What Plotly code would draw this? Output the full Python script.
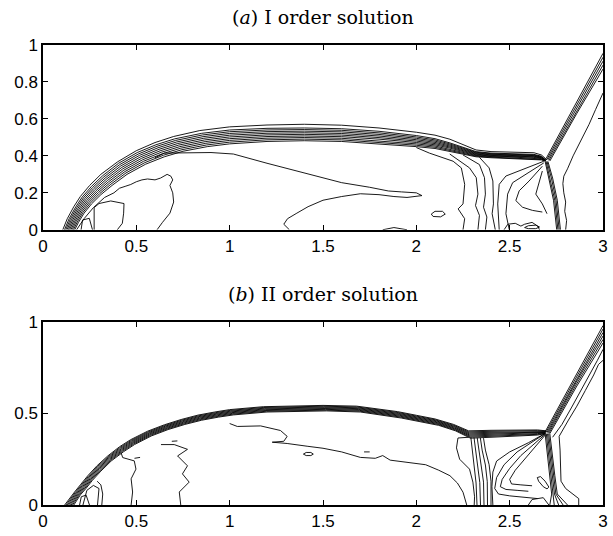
import plotly.graph_objects as go

# ---------------- panel (a): first order solution ----------------
# leading edge of the bow shock (outermost contour)
a_front_x = [0.106, 0.13, 0.165, 0.2, 0.25, 0.31, 0.4, 0.5, 0.6, 0.7, 0.84, 1.0, 1.2, 1.4, 1.6, 1.8, 2.0, 2.1, 2.18, 2.25, 2.32, 2.4, 2.55, 2.63, 2.67, 2.70]
a_front_y = [0.0, 0.06, 0.125, 0.18, 0.24, 0.30, 0.368, 0.428, 0.472, 0.505, 0.537, 0.557, 0.567, 0.571, 0.566, 0.551, 0.528, 0.512, 0.49, 0.46, 0.432, 0.423, 0.421, 0.417, 0.405, 0.378]
# packed contours inside the bow shock: first and last of the group
a_bow_top_x = [0.115, 0.14, 0.175, 0.21, 0.26, 0.32, 0.405, 0.505, 0.605, 0.705, 0.85, 1.0, 1.2, 1.4, 1.6, 1.8, 2.0, 2.1, 2.18, 2.25, 2.32, 2.4, 2.55, 2.63, 2.67, 2.695]
a_bow_top_y = [0.0, 0.06, 0.123, 0.177, 0.235, 0.293, 0.36, 0.418, 0.46, 0.492, 0.522, 0.54, 0.549, 0.551, 0.547, 0.533, 0.51, 0.493, 0.47, 0.445, 0.423, 0.415, 0.412, 0.408, 0.398, 0.376]
a_bow_in_x = [0.17, 0.19, 0.22, 0.26, 0.31, 0.37, 0.45, 0.55, 0.65, 0.75, 0.88, 1.0, 1.2, 1.4, 1.6, 1.8, 2.0, 2.1, 2.18, 2.25, 2.32, 2.4, 2.55, 2.63, 2.67, 2.69]
a_bow_in_y = [0.0, 0.04, 0.09, 0.14, 0.19, 0.24, 0.30, 0.355, 0.395, 0.425, 0.45, 0.465, 0.478, 0.482, 0.478, 0.465, 0.45, 0.44, 0.425, 0.41, 0.395, 0.39, 0.385, 0.382, 0.378, 0.372]
a_bow_levels = 9

# incident shock, triple point to the right wall
a_inc_up_x = [2.695, 2.85, 3.0]
a_inc_up_y = [0.385, 0.675, 0.955]
a_inc_lo_x = [2.715, 2.86, 3.0]
a_inc_lo_y = [0.372, 0.63, 0.87]
a_inc_levels = 5

# Mach stem, triple point to the wall
a_stem_l_x = [2.69, 2.71, 2.735, 2.752]
a_stem_l_y = [0.37, 0.28, 0.16, 0.0]
a_stem_r_x = [2.705, 2.73, 2.755, 2.772]
a_stem_r_y = [0.37, 0.28, 0.16, 0.0]
a_stem_levels = 4

# single contours
a_lines = [
    # right of the incident shock and Mach stem
    ([2.80, 2.805, 2.795, 2.80, 2.79, 2.785, 2.79, 2.81, 2.84, 2.87, 2.90, 2.925, 2.96, 3.0],
     [0.0, 0.05, 0.1, 0.15, 0.2, 0.25, 0.29, 0.33, 0.40, 0.46, 0.52, 0.57, 0.65, 0.74]),
    # ragged inner contour behind the bow shock
    ([0.18, 0.22, 0.27, 0.33, 0.38, 0.41, 0.44, 0.47, 0.5, 0.53, 0.56, 0.6, 0.63, 0.645, 0.665, 0.685, 0.695, 0.68, 0.695, 0.70, 0.68, 0.64, 0.611],
     [0.0, 0.06, 0.12, 0.175, 0.2, 0.225, 0.235, 0.245, 0.26, 0.27, 0.275, 0.27, 0.28, 0.29, 0.30, 0.29, 0.27, 0.24, 0.2, 0.15, 0.09, 0.04, 0.0]),
    # long contour below the bow shock with tongue
    ([0.60, 0.65, 0.9, 1.02, 1.2, 1.42, 1.6, 1.75, 1.85, 1.92, 2.0, 2.03, 1.95, 1.88, 1.8, 1.7, 1.6, 1.5, 1.42, 1.36, 1.31, 1.29, 1.32],
     [0.39, 0.415, 0.418, 0.41, 0.36, 0.30, 0.255, 0.23, 0.21, 0.205, 0.2, 0.185, 0.175, 0.18, 0.19, 0.195, 0.18, 0.16, 0.125, 0.09, 0.06, 0.03, 0.0]),
    # small closed region
    ([2.08, 2.1, 2.14, 2.155, 2.13, 2.09, 2.08], [0.085, 0.1, 0.1, 0.085, 0.07, 0.072, 0.085]),
    # lobes near the shock foot
    ([0.274, 0.274, 0.30, 0.363, 0.434, 0.432, 0.425, 0.398], [0.0, 0.12, 0.142, 0.156, 0.142, 0.09, 0.035, 0.0]),
    ([0.204, 0.212, 0.248, 0.265], [0.0, 0.053, 0.062, 0.0]),
    # contours descending from the slip region
    ([2.0, 2.07, 2.197, 2.241, 2.259, 2.25, 2.224, 2.259, 2.25],
     [0.445, 0.415, 0.371, 0.335, 0.246, 0.14, 0.113, 0.06, 0.0]),
    ([2.179, 2.285, 2.321, 2.33, 2.317, 2.338, 2.33], [0.41, 0.335, 0.282, 0.193, 0.131, 0.078, 0.0]),
    ([2.25, 2.338, 2.365, 2.37, 2.36, 2.378, 2.37], [0.405, 0.353, 0.282, 0.193, 0.122, 0.069, 0.0]),
    ([2.338, 2.39, 2.41, 2.413, 2.406, 2.423], [0.392, 0.335, 0.264, 0.14, 0.087, 0.0]),
    # fan below the triple point
    ([2.683, 2.569, 2.48, 2.444, 2.436, 2.444], [0.371, 0.326, 0.291, 0.246, 0.14, 0.0]),
    ([2.683, 2.586, 2.516, 2.489, 2.48, 2.498], [0.362, 0.3, 0.255, 0.193, 0.087, 0.0]),
    ([2.675, 2.604, 2.551, 2.533, 2.569, 2.622, 2.675], [0.344, 0.264, 0.211, 0.158, 0.122, 0.105, 0.096]),
    ([2.675, 2.64, 2.675, 2.70], [0.318, 0.193, 0.14, 0.087]),
    ([2.47, 2.49, 2.53, 2.56, 2.58, 2.62, 2.65, 2.66], [0.0, 0.03, 0.035, 0.02, 0.03, 0.04, 0.02, 0.0]),
    ([2.58, 2.6, 2.64, 2.66, 2.64, 2.6, 2.58], [0.012, 0.022, 0.025, 0.015, 0.006, 0.006, 0.012]),
    ([1.82, 1.88, 1.95], [0.0, 0.012, 0.0]),
]

# ---------------- panel (b): second order solution ----------------
b_bow_out_x = [0.116, 0.14, 0.169, 0.2, 0.24, 0.29, 0.347, 0.41, 0.47, 0.56, 0.65, 0.74, 0.83, 0.92, 1.0, 1.18, 1.36, 1.5, 1.68, 1.8, 1.9, 2.0, 2.1, 2.2, 2.28, 2.4, 2.55, 2.65, 2.695]
b_bow_out_y = [0.0, 0.035, 0.071, 0.11, 0.16, 0.215, 0.268, 0.318, 0.357, 0.403, 0.438, 0.467, 0.491, 0.508, 0.521, 0.537, 0.543, 0.544, 0.54, 0.525, 0.51, 0.49, 0.47, 0.44, 0.405, 0.408, 0.41, 0.41, 0.405]
b_bow_in_x = [0.165, 0.18, 0.2, 0.23, 0.265, 0.31, 0.365, 0.43, 0.49, 0.58, 0.67, 0.76, 0.85, 0.94, 1.02, 1.2, 1.38, 1.52, 1.7, 1.82, 1.92, 2.02, 2.12, 2.21, 2.29, 2.4, 2.55, 2.65, 2.69]
b_bow_in_y = [0.0, 0.025, 0.055, 0.09, 0.135, 0.185, 0.24, 0.29, 0.33, 0.377, 0.412, 0.44, 0.463, 0.48, 0.492, 0.508, 0.513, 0.514, 0.508, 0.492, 0.475, 0.455, 0.435, 0.405, 0.365, 0.37, 0.375, 0.382, 0.39]
b_bow_levels = 8

b_inc_up_x = [2.69, 2.85, 3.0]
b_inc_up_y = [0.40, 0.70, 0.98]
b_inc_lo_x = [2.715, 2.86, 3.0]
b_inc_lo_y = [0.39, 0.65, 0.885]
b_inc_levels = 6

b_stem_l_x = [2.69, 2.705, 2.715, 2.725, 2.715]
b_stem_l_y = [0.39, 0.25, 0.16, 0.06, 0.0]
b_stem_r_x = [2.715, 2.73, 2.742, 2.755, 2.81]
b_stem_r_y = [0.39, 0.25, 0.16, 0.06, 0.0]
b_stem_levels = 5

# bundle of contours dropping from the slip line
b_bun_l_x = [2.292, 2.30, 2.31, 2.32, 2.325]
b_bun_l_y = [0.37, 0.30, 0.214, 0.12, 0.0]
b_bun_r_x = [2.36, 2.37, 2.39, 2.40, 2.40]
b_bun_r_y = [0.365, 0.30, 0.22, 0.13, 0.0]
b_bun_levels = 5

b_lines = [
    # right of the incident shock and Mach stem
    ([2.87, 2.87, 2.80, 2.775, 2.77, 2.765, 2.815, 2.86, 2.905, 2.95, 2.976, 3.0],
     [0.0, 0.035, 0.09, 0.13, 0.3, 0.375, 0.464, 0.54, 0.625, 0.71, 0.768, 0.79]),
    ([2.73, 2.78, 2.83, 2.88, 2.93, 2.97, 3.0],
     [0.37, 0.44, 0.53, 0.62, 0.71, 0.79, 0.85]),
    # lobes near the shock foot
    ([0.196, 0.205, 0.231, 0.249], [0.0, 0.045, 0.054, 0.0]),
    ([0.214, 0.235, 0.27, 0.30, 0.292], [0.0, 0.08, 0.107, 0.09, 0.0]),
    ([0.315, 0.32, 0.31, 0.29], [0.0, 0.06, 0.11, 0.13]),
    # wavy contours behind the bow shock
    ([0.418, 0.427, 0.489, 0.498, 0.472, 0.48, 0.472], [0.286, 0.259, 0.241, 0.196, 0.143, 0.071, 0.0]),
    ([0.632, 0.703, 0.774, 0.721, 0.774, 0.747, 0.783, 0.73, 0.738],
     [0.33, 0.33, 0.304, 0.268, 0.214, 0.17, 0.125, 0.071, 0.0]),
    ([0.69, 0.72], [0.348, 0.35]),
    ([0.49, 0.52], [0.255, 0.26]),
    # long contour under the bow shock
    ([1.0, 1.041, 1.166, 1.272, 1.308, 1.29, 1.228, 1.308, 1.415, 1.5, 1.6, 1.7, 1.78, 1.82, 1.86, 1.95, 2.05, 2.12, 2.18, 2.22, 2.25, 2.27],
     [0.445, 0.429, 0.432, 0.407, 0.375, 0.348, 0.343, 0.336, 0.321, 0.31, 0.29, 0.26, 0.255, 0.27, 0.245, 0.235, 0.22, 0.19, 0.16, 0.12, 0.07, 0.0]),
    ([1.395, 1.41, 1.435, 1.448, 1.435, 1.41, 1.395], [0.278, 0.287, 0.287, 0.278, 0.27, 0.27, 0.278]),
    ([1.72, 1.75], [0.29, 0.29]),
    ([2.28, 2.223, 2.215, 2.232, 2.285, 2.303, 2.312, 2.31], [0.37, 0.366, 0.312, 0.25, 0.196, 0.125, 0.045, 0.0]),
    # fan from the triple point
    ([2.692, 2.6, 2.5, 2.43, 2.41, 2.405, 2.41], [0.392, 0.34, 0.29, 0.24, 0.18, 0.1, 0.0]),
    ([2.692, 2.62, 2.54, 2.47, 2.43, 2.42, 2.44, 2.5, 2.58, 2.65], [0.392, 0.345, 0.29, 0.22, 0.15, 0.09, 0.06, 0.05, 0.04, 0.035]),
    ([2.692, 2.625, 2.56, 2.5, 2.46, 2.45, 2.48, 2.54, 2.6], [0.388, 0.33, 0.27, 0.2, 0.14, 0.1, 0.085, 0.08, 0.075]),
    ([2.692, 2.635, 2.58, 2.53, 2.5, 2.51, 2.56, 2.62], [0.384, 0.315, 0.25, 0.19, 0.14, 0.115, 0.11, 0.105]),
    ([2.648, 2.665, 2.69, 2.71, 2.70, 2.68, 2.655, 2.648], [0.15, 0.155, 0.13, 0.098, 0.088, 0.1, 0.13, 0.15]),
    ([2.60, 2.62, 2.68, 2.71], [0.0, 0.03, 0.04, 0.0]),
]


def band(x0, y0, x1, y1, n):
    """n contours spread evenly between two bounding contours."""
    out = []
    for k in range(n):
        t = k / (n - 1)
        out.append(([a + (b - a) * t for a, b in zip(x0, x1)],
                    [a + (b - a) * t for a, b in zip(y0, y1)]))
    return out


def joined(lines):
    xs, ys = [], []
    for lx, ly in lines:
        xs += list(lx) + [None]
        ys += list(ly) + [None]
    return xs, ys


a_all = [(a_front_x, a_front_y)]
a_all += band(a_bow_top_x, a_bow_top_y, a_bow_in_x, a_bow_in_y, a_bow_levels)
a_all += band(a_inc_up_x, a_inc_up_y, a_inc_lo_x, a_inc_lo_y, a_inc_levels)
a_all += band(a_stem_l_x, a_stem_l_y, a_stem_r_x, a_stem_r_y, a_stem_levels)
a_all += a_lines

b_all = band(b_bow_out_x, b_bow_out_y, b_bow_in_x, b_bow_in_y, b_bow_levels)
b_all += band(b_inc_up_x, b_inc_up_y, b_inc_lo_x, b_inc_lo_y, b_inc_levels)
b_all += band(b_stem_l_x, b_stem_l_y, b_stem_r_x, b_stem_r_y, b_stem_levels)
b_all += band(b_bun_l_x, b_bun_l_y, b_bun_r_x, b_bun_r_y, b_bun_levels)
b_all += b_lines

line_style = dict(color="black", width=0.9)

fig = go.Figure()
ax, ay = joined(a_all)
fig.add_trace(go.Scatter(x=ax, y=ay, mode="lines", line=line_style,
                         connectgaps=False, showlegend=False, hoverinfo="skip",
                         xaxis="x", yaxis="y"))
bx, by = joined(b_all)
fig.add_trace(go.Scatter(x=bx, y=by, mode="lines", line=line_style,
                         connectgaps=False, showlegend=False, hoverinfo="skip",
                         xaxis="x2", yaxis="y2"))

tick_font = dict(family="Liberation Sans, Arial, sans-serif", size=17, color="black")
axis_common = dict(showline=True, linecolor="black", linewidth=1.5, mirror="allticks",
                   ticks="inside", ticklen=5, tickwidth=1, tickcolor="black",
                   showgrid=False, zeroline=False, tickfont=tick_font)

x_ticks = [0, 0.5, 1, 1.5, 2, 2.5, 3]
x_ticktext = ["0", "0.5", "1", "1.5", "2", "2.5", "3"]
a_yticks = [0, 0.2, 0.4, 0.6, 0.8, 1]
a_yticktext = ["0", "0.2", "0.4", "0.6", "0.8", "1"]
b_yticks = [0, 0.5, 1]
b_yticktext = ["0", "0.5", "1"]

top_dom = [0.5983, 1.0]
bot_dom = [0.0, 0.398]

fig.update_layout(
    width=613, height=536,
    margin=dict(l=43, r=5, t=45, b=23),
    paper_bgcolor="white", plot_bgcolor="white",
    xaxis=dict(domain=[0, 1], range=[0, 3], anchor="y", tickvals=x_ticks, ticktext=x_ticktext, **axis_common),
    yaxis=dict(domain=top_dom, range=[0, 1], anchor="x", tickvals=a_yticks, ticktext=a_yticktext, **axis_common),
    xaxis2=dict(domain=[0, 1], range=[0, 3], anchor="y2", tickvals=x_ticks, ticktext=x_ticktext, **axis_common),
    yaxis2=dict(domain=bot_dom, range=[0, 1], anchor="x2", tickvals=b_yticks, ticktext=b_yticktext, **axis_common),
)

title_font = dict(family="DejaVu Serif, serif", size=19, color="black")
fig.add_annotation(text="(<i>a</i>) I order solution", xref="paper", yref="paper",
                   x=0.5, y=top_dom[1], yanchor="middle", yshift=28, showarrow=False, font=title_font)
fig.add_annotation(text="(<i>b</i>) II order solution", xref="paper", yref="paper",
                   x=0.5, y=bot_dom[1], yanchor="middle", yshift=28, showarrow=False, font=title_font)

fig.write_html("out.html")
